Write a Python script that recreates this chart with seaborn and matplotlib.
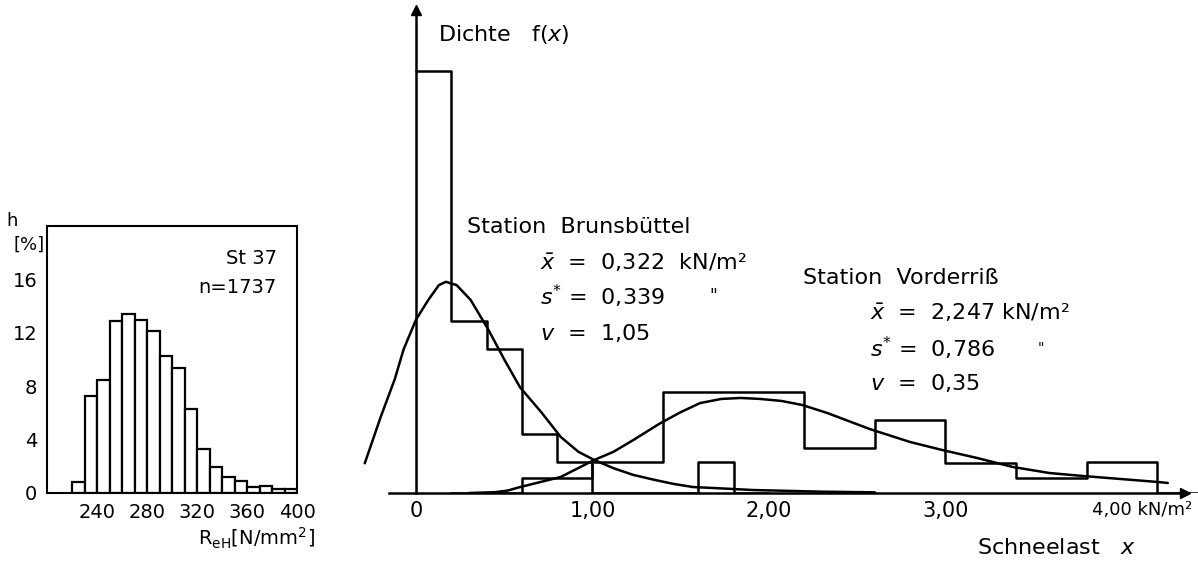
import matplotlib
matplotlib.use("Agg")
import matplotlib.pyplot as plt
import matplotlib.transforms as mtransforms
import seaborn as sns

# ---------------- data ----------------
# left panel: St 37 yield strength histogram (h in %)
st37_edges = [220, 230, 240, 250, 260, 270, 280, 290, 300, 310, 320,
              330, 340, 350, 360, 370, 380, 390, 400]
st37_heights = [0.8, 7.25, 8.45, 12.9, 13.4, 12.95, 12.1, 10.25, 9.4, 6.3,
                3.3, 1.95, 1.2, 0.9, 0.45, 0.5, 0.3, 0.3]
st37_xticks = [240, 280, 320, 360, 400]
st37_yticks = [0, 4, 8, 12, 16]

# right panel: snow load densities
bru_edges = [0.0, 0.2, 0.4, 0.6, 0.8, 1.0, 1.2, 1.4, 1.6, 1.8, 2.0]
bru_heights = [2.56, 1.04, 0.87, 0.36, 0.19, 0.0, 0.0, 0.0, 0.19, 0.0]
vor_edges = [0.2, 0.6, 1.0, 1.4, 1.8, 2.2, 2.6, 3.0, 3.4, 3.8, 4.2, 4.6]
vor_heights = [0.0, 0.09, 0.19, 0.61, 0.61, 0.27, 0.44, 0.18, 0.09, 0.19, 0.0]

bru_curve_x = [-0.29, -0.20, -0.12, -0.07, 0.00, 0.07, 0.13, 0.17, 0.23, 0.31,
               0.41, 0.50, 0.59, 0.71, 0.82, 0.92, 1.01, 1.12, 1.23, 1.35,
               1.46, 1.57, 1.69, 1.80, 1.91, 2.03, 2.30, 2.60]
bru_curve_y = [0.18, 0.46, 0.69, 0.87, 1.05, 1.17, 1.26, 1.28, 1.26, 1.17,
               0.99, 0.81, 0.64, 0.49, 0.34, 0.25, 0.20, 0.15, 0.11, 0.08,
               0.055, 0.036, 0.030, 0.024, 0.018, 0.015, 0.008, 0.004]
vor_curve_x = [0.30, 0.45, 0.52, 0.59, 0.82, 1.01, 1.12, 1.23, 1.38, 1.50,
               1.61, 1.73, 1.84, 1.95, 2.07, 2.19, 2.33, 2.57, 2.80, 2.98,
               3.18, 3.38, 3.59, 3.78, 3.99, 4.20, 4.26]
vor_curve_y = [0.0, 0.005, 0.015, 0.036, 0.097, 0.20, 0.25, 0.32, 0.42, 0.49,
               0.545, 0.57, 0.576, 0.57, 0.558, 0.533, 0.485, 0.388, 0.309, 0.261,
               0.212, 0.158, 0.121, 0.103, 0.085, 0.067, 0.061]

snow_xticks = [0, 1, 2, 3, 4]
snow_xticklabels = ["0", "1,00", "2,00", "3,00", "4,00 kN/m²"]

# ---------------- style ----------------
sns.set_style("white")
FONT = "DejaVu Sans"
SR, ST, SL = 16, 15, 14
plt.rcParams["font.family"] = [FONT]
plt.rcParams["mathtext.fontset"] = "custom"
plt.rcParams["mathtext.rm"] = FONT
plt.rcParams["mathtext.it"] = FONT + ":italic"
plt.rcParams["text.color"] = "black"
plt.rcParams["axes.labelcolor"] = "black"
plt.rcParams["xtick.color"] = "black"
plt.rcParams["ytick.color"] = "black"

W, H = 1198, 562
fig = plt.figure(figsize=(W / 100, H / 100), dpi=100)
fig.patch.set_facecolor("white")

# ---------------- left panel ----------------
axL = fig.add_axes([47 / W, (H - 493) / H, 250 / W, 267 / H])
centers = [(a + b) / 2 for a, b in zip(st37_edges[:-1], st37_edges[1:])]
sns.histplot(x=centers, weights=st37_heights, bins=st37_edges, element="bars",
             fill=True, color="white", edgecolor="black", linewidth=1.6,
             alpha=1, ax=axL)
axL.set_xlim(200, 400)
axL.set_ylim(0, 20)
axL.set_xticks(st37_xticks)
axL.set_yticks(st37_yticks)
axL.set_xlabel("")
axL.set_ylabel("")
for s in axL.spines.values():
    s.set_color("black")
    s.set_linewidth(1.5)
axL.tick_params(axis="both", direction="out", length=3, width=1.2,
                labelsize=SL, pad=4, colors="black")
axL.text(0.92, 0.88, "St 37", transform=axL.transAxes, ha="right",
         va="center", fontsize=SL)
axL.text(0.92, 0.768, "n=1737", transform=axL.transAxes, ha="right",
         va="center", fontsize=SL)
fig.text(12 / W, 1 - 221 / H, "h", ha="center", va="center", fontsize=SL - 1)
fig.text(29 / W, 1 - 245 / H, "[%]", ha="center", va="center", fontsize=SL - 1)
fig.text(315 / W, 1 - 538 / H, r"R$_{\mathrm{eH}}$[N/mm$^{2}$]", ha="right",
         va="center", fontsize=SL)

# ---------------- right panel ----------------
axR = fig.add_axes([360 / W, (H - 493) / H, 838 / W, 483 / H])
LW = 1.8
bru_c = [(a + b) / 2 for a, b in zip(bru_edges[:-1], bru_edges[1:])]
vor_c = [(a + b) / 2 for a, b in zip(vor_edges[:-1], vor_edges[1:])]
sns.histplot(x=bru_c, weights=bru_heights, bins=bru_edges, element="step",
             fill=False, color="black", linewidth=LW, ax=axR)
sns.histplot(x=vor_c, weights=vor_heights, bins=vor_edges, element="step",
             fill=False, color="black", linewidth=LW, ax=axR)
sns.lineplot(x=bru_curve_x, y=bru_curve_y, color="black", linewidth=LW, ax=axR)
sns.lineplot(x=vor_curve_x, y=vor_curve_y, color="black", linewidth=LW, ax=axR)

axR.set_xlim(-0.317, 4.431)
axR.set_ylim(0, 2.927)
axR.set_xlabel("")
axR.set_ylabel("")
axR.set_yticks([])
axR.set_xticks(snow_xticks)
axR.set_xticklabels(snow_xticklabels)
for side in ["top", "right"]:
    axR.spines[side].set_visible(False)
axR.spines["left"].set_position(("data", 0))
axR.spines["left"].set_color("black")
axR.spines["left"].set_linewidth(LW)
axR.spines["bottom"].set_color("black")
axR.spines["bottom"].set_linewidth(LW)
axR.spines["bottom"].set_bounds(-0.15, 4.36)
axR.plot(0, 1, "^k", markersize=7, transform=axR.get_xaxis_transform(),
         clip_on=False)
axR.plot(4.36, 0, ">k", markersize=7, transform=axR.get_xaxis_transform(),
         clip_on=False)
axR.tick_params(axis="x", direction="inout", length=6, width=1.2,
                labelsize=ST, pad=3, colors="black")
# put "4,00" under its tick with the unit running to the right
lab = axR.get_xticklabels()[-1]
lab.set_horizontalalignment("left")
lab.set_fontsize(ST - 2)
lab.set_transform(lab.get_transform() +
                  mtransforms.ScaledTranslation(-30 / 100, 0, fig.dpi_scale_trans))

axR.text(0.125, 2.776, r"Dichte   f($x$)", ha="left", va="center", fontsize=SR)
axR.text(0.289, 1.612, "Station  Brunsbüttel", ha="left", va="center", fontsize=SR)
axR.text(0.703, 1.394, r"$\bar{x}$  =  0,322  kN/m²", ha="left", va="center", fontsize=SR)
axR.text(0.703, 1.194, r"$s^{*}$ =  0,339", ha="left", va="center", fontsize=SR)
axR.text(1.66, 1.194, '"', ha="left", va="center", fontsize=SR - 4)
axR.text(0.703, 0.970, r"$v$  =  1,05", ha="left", va="center", fontsize=SR)

axR.text(2.193, 1.303, "Station  Vorderriß", ha="left", va="center", fontsize=SR)
axR.text(2.572, 1.091, r"$\bar{x}$  =  2,247 kN/m²", ha="left", va="center", fontsize=SR)
axR.text(2.572, 0.879, r"$s^{*}$ =  0,786", ha="left", va="center", fontsize=SR)
axR.text(3.52, 0.879, '"', ha="left", va="center", fontsize=SR - 6)
axR.text(2.572, 0.667, r"$v$  =  0,35", ha="left", va="center", fontsize=SR)

axR.text(3.18, -0.333, r"Schneelast   $x$", ha="left", va="center", fontsize=SR,
         clip_on=False)

fig.savefig("out.png", dpi=100, facecolor="white")
